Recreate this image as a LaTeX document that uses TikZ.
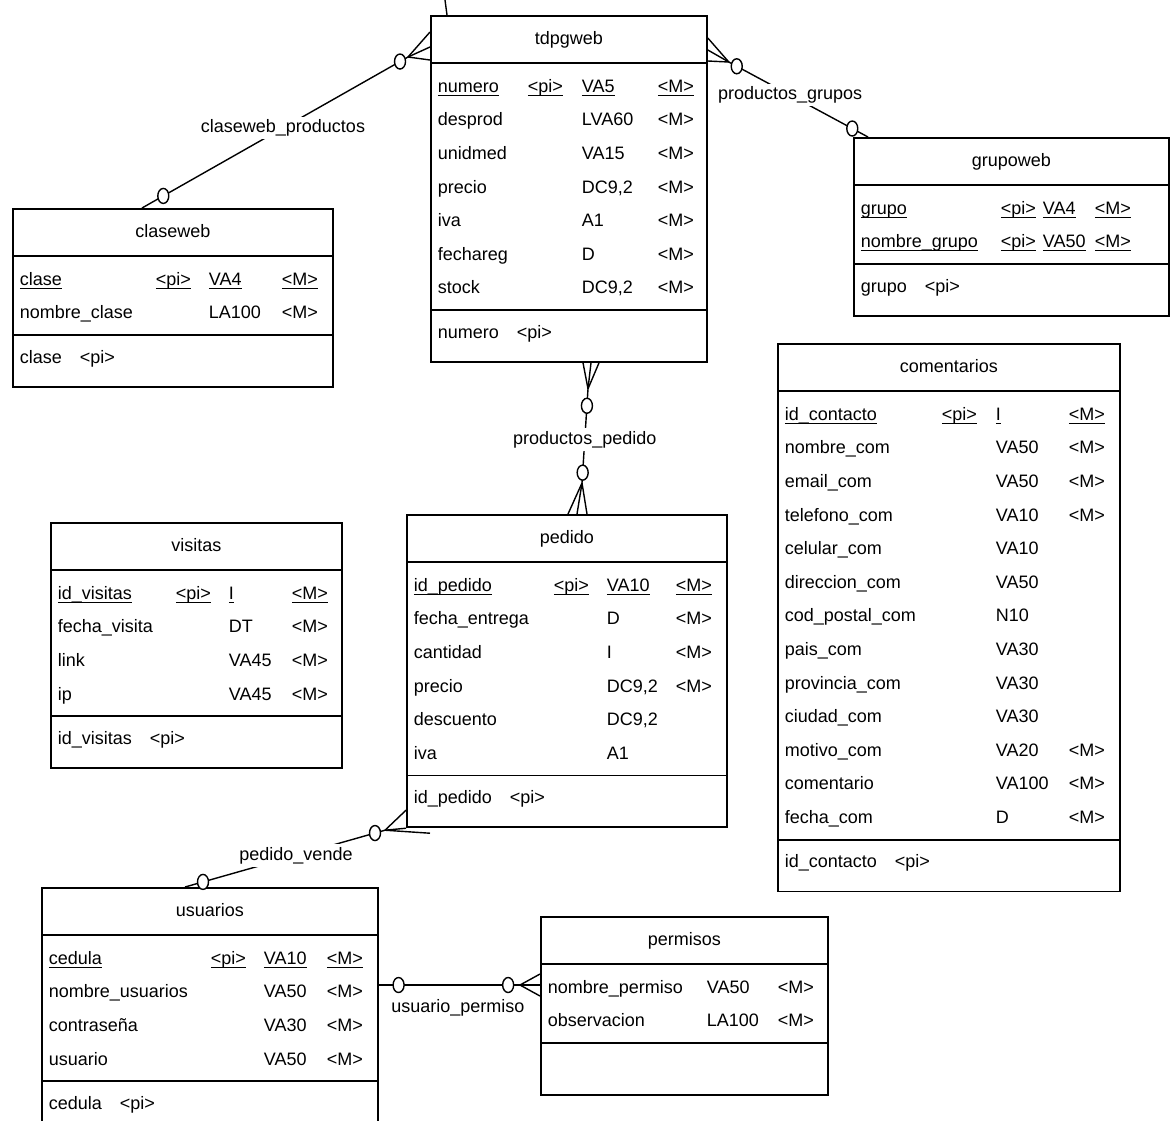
\documentclass[tikz,border=0pt]{standalone}
\usepackage{fontspec}
\setmainfont{Liberation Sans}
\usepackage{tikz}
\usetikzlibrary{shapes.multipart,shapes.geometric,calc}
\setlength{\tabcolsep}{0pt}
\newcommand{\pk}[1]{\underline{\smash{#1}}}
\newcommand{\hdstrut}{\rule[-5.9pt]{0pt}{17.3pt}}
\newcommand{\idstrut}{\rule[-8.9pt]{0pt}{19.8pt}}

\begin{document}
\begin{tikzpicture}[
    x=0.5pt, y=-0.5pt,
    font=\fontsize{9}{16.8}\selectfont,
    tabla/.style={rectangle split, rectangle split parts=3, draw=black, line width=0.9pt,
        rectangle split part align={center,left,left}, inner xsep=3.5pt, inner ysep=2.6pt, anchor=north west},
    rel/.style={line width=0.7pt},
    opc/.style={ellipse, draw=black, fill=white, line width=0.7pt, minimum width=5.5pt, minimum height=7.5pt, inner sep=0pt},
    etiq/.style={fill=white, inner sep=1.5pt}
]
\useasboundingbox (0,0) rectangle (1176,1120);
\clip (0,0) rectangle (1176,1120);

% tablas
\node[tabla, minimum width=138pt] (tdpgweb) at (430,15) {\hdstrut tdpgweb
  \nodepart{two}\begin{tabular}{p{45pt}p{27pt}p{38pt}l}
  \pk{numero} & \pk{<pi>} & \pk{VA5} & \pk{<M>}\\
  desprod & & LVA60 & <M>\\
  unidmed & & VA15 & <M>\\
  precio & & DC9,2 & <M>\\
  iva & & A1 & <M>\\
  fechareg & & D & <M>\\
  stock & & DC9,2 & <M>
  \end{tabular}
  \nodepart{three}\idstrut numero\quad <pi>};

\node[tabla, minimum width=160pt] (claseweb) at (12,208) {\hdstrut claseweb
  \nodepart{two}\begin{tabular}{p{68pt}p{26.5pt}p{36.5pt}l}
  \pk{clase} & \pk{<pi>} & \pk{VA4} & \pk{<M>}\\
  nombre\_clase & & LA100 & <M>
  \end{tabular}
  \nodepart{three}\idstrut clase\quad <pi>};

\node[tabla, minimum width=157.5pt] (grupoweb) at (853,137) {\hdstrut grupoweb
  \nodepart{two}\begin{tabular}{p{70pt}p{21pt}p{26pt}l}
  \pk{grupo} & \pk{<pi>} & \pk{VA4} & \pk{<M>}\\
  \pk{nombre\_grupo} & \pk{<pi>} & \pk{VA50} & \pk{<M>}
  \end{tabular}
  \nodepart{three}\idstrut grupo\quad <pi>};

\node[tabla, minimum width=171pt] (comentarios) at (777,343) {\hdstrut comentarios
  \nodepart{two}\begin{tabular}{p{78.5pt}p{27pt}p{36.5pt}l}
  \pk{id\_contacto} & \pk{<pi>} & \pk{I} & \pk{<M>}\\
  nombre\_com & & VA50 & <M>\\
  email\_com & & VA50 & <M>\\
  telefono\_com & & VA10 & <M>\\
  celular\_com & & VA10 & \\
  direccion\_com & & VA50 & \\
  cod\_postal\_com & & N10 & \\
  pais\_com & & VA30 & \\
  provincia\_com & & VA30 & \\
  ciudad\_com & & VA30 & \\
  motivo\_com & & VA20 & <M>\\
  comentario & & VA100 & <M>\\
  fecha\_com & & D & <M>
  \end{tabular}
  \nodepart{three}\idstrut id\_contacto\quad <pi>};

\node[tabla, minimum width=145.5pt] (visitas) at (50,522) {\hdstrut visitas
  \nodepart{two}\begin{tabular}{p{59pt}p{26.5pt}p{31.5pt}l}
  \pk{id\_visitas} & \pk{<pi>} & \pk{I} & \pk{<M>}\\
  fecha\_visita & & DT & <M>\\
  link & & VA45 & <M>\\
  ip & & VA45 & <M>
  \end{tabular}
  \nodepart{three}\idstrut id\_visitas\quad <pi>};

\node[tabla, minimum width=160pt] (pedido) at (406,514) {\hdstrut pedido
  \nodepart{two}\begin{tabular}{p{70pt}p{26.5pt}p{34.5pt}l}
  \pk{id\_pedido} & \pk{<pi>} & \pk{VA10} & \pk{<M>}\\
  fecha\_entrega & & D & <M>\\
  cantidad & & I & <M>\\
  precio & & DC9,2 & <M>\\
  descuento & & DC9,2 & \\
  iva & & A1 &
  \end{tabular}
  \nodepart{three}\idstrut id\_pedido\quad <pi>};

\node[tabla, minimum width=168pt] (usuarios) at (41,887) {\hdstrut usuarios
  \nodepart{two}\begin{tabular}{p{81pt}p{26.5pt}p{31.5pt}l}
  \pk{cedula} & \pk{<pi>} & \pk{VA10} & \pk{<M>}\\
  nombre\_usuarios & & VA50 & <M>\\
  contraseña & & VA30 & <M>\\
  usuario & & VA50 & <M>
  \end{tabular}
  \nodepart{three}\idstrut cedula\quad <pi>};

\node[tabla, minimum width=143.5pt] (permisos) at (540,916) {\hdstrut permisos
  \nodepart{two}\begin{tabular}{p{79.5pt}p{35.5pt}l}
  nombre\_permiso & VA50 & <M>\\
  observacion & LA100 & <M>
  \end{tabular}
  \nodepart{three}\idstrut};

% claseweb_productos
\coordinate (cp) at ($(tdpgweb.north west)+(-22,42)$);
\draw[rel] ($(tdpgweb.north west)+(0,17)$) -- (cp);
\draw[rel] ($(tdpgweb.north west)+(0,32)$) -- (cp);
\draw[rel] ($(tdpgweb.north west)+(0,45)$) -- (cp);
\draw[rel] (cp) -- node[pos=0.03, opc] (cp1) {}
    node[pos=0.47, etiq] (lcp) {claseweb\_productos}
    node[pos=0.92, opc] (cp2) {} ($(claseweb.north west)+(130,0)$);

% productos_grupos
\coordinate (pg) at ($(tdpgweb.north east)+(21,47)$);
\draw[rel] ($(tdpgweb.north east)+(0,23)$) -- (pg);
\draw[rel] ($(tdpgweb.north east)+(0,35)$) -- (pg);
\draw[rel] ($(tdpgweb.north east)+(0,46)$) -- (pg);
\draw[rel] (pg) -- node[pos=0.057, opc] (pg1) {}
    node[pos=0.44, etiq] (lpg) {productos\_grupos}
    node[pos=0.887, opc] (pg2) {} ($(grupoweb.north west)+(15,0)$);

% productos_pedido
\coordinate (pp) at ($(tdpgweb.south west)+(158,26)$);
\coordinate (pq) at ($(pedido.north west)+(176,-31)$);
\draw[rel] ($(tdpgweb.south west)+(153,0)$) -- (pp);
\draw[rel] ($(tdpgweb.south west)+(161,0)$) -- (pp);
\draw[rel] ($(tdpgweb.south west)+(169,0)$) -- (pp);
\draw[rel] ($(pedido.north west)+(162,0)$) -- (pq);
\draw[rel] ($(pedido.north west)+(171,0)$) -- (pq);
\draw[rel] ($(pedido.north west)+(181,0)$) -- (pq);
\draw[rel] (pp) -- node[pos=0.18, opc] (pp1) {}
    node[pos=0.54, etiq] (lpp) {productos\_pedido}
    node[pos=0.89, opc] (pp2) {} (pq);

% pedido_vende
\coordinate (pv) at ($(pedido.south west)+(-21,2)$);
\draw[rel] ($(pedido.south west)+(0,-18)$) -- (pv);
\draw[rel] (pedido.south west) -- (pv);
\draw[rel] ($(pedido.south west)+(24,5)$) -- (pv);
\draw[rel] (pv) -- node[pos=0.05, opc] (pv1) {}
    node[pos=0.445, etiq] (lpv) {pedido\_vende}
    node[pos=0.91, opc] (pv2) {} ($(usuarios.north west)+(144,0)$);

% usuario_permiso
\coordinate (up) at ($(permisos.north west)+(-20,69)$);
\draw[rel] ($(permisos.north west)+(0,58)$) -- (up);
\draw[rel] ($(permisos.north west)+(0,69)$) -- (up);
\draw[rel] ($(permisos.north west)+(0,80)$) -- (up);
\draw[rel] ($(usuarios.north east)+(0,98)$) -- node[pos=0.14, opc] (up1) {}
    node[pos=0.56, yshift=-11.5pt, inner sep=0pt] (lup) {usuario\_permiso}
    node[pos=0.916, opc] (up2) {} (up);

% trazo superior
\draw[rel] ($(tdpgweb.north west)+(17,0)$) -- ++(-2,-15);

\end{tikzpicture}
\end{document}
